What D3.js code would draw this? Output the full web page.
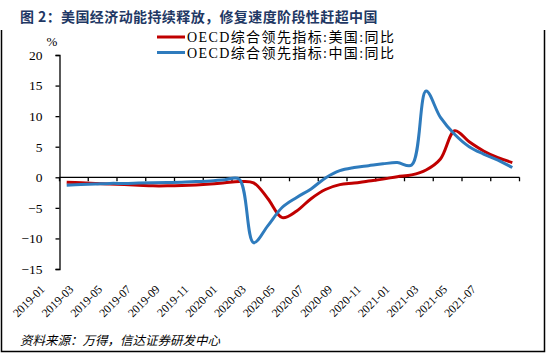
<!DOCTYPE html>
<html>
<head>
<meta charset="utf-8">
<title>图2</title>
<style>
  body { margin: 0; background: #fff; }
  svg { display: block; }
</style>
</head>
<body>
<svg width="546" height="353"></svg>
<script src="https://cdn.jsdelivr.net/npm/d3@7"></script>
<script>
// months 2019-01 .. 2021-08
const months = [];
for (let y = 2019; y <= 2021; y++) {
  for (let m = 1; m <= 12; m++) {
    if (y === 2021 && m > 8) break;
    months.push(y + "-" + String(m).padStart(2, "0"));
  }
}
const usValues = [-0.8, -0.9, -1.0, -1.1, -1.2, -1.3, -1.4, -1.4, -1.35, -1.25, -1.1, -0.9,
  -0.7, -0.9, -3.5, -6.6, -5.5, -3.5, -2.0, -1.2, -0.95, -0.6, -0.3, 0.1,
  0.4, 1.2, 3.0, 7.6, 5.8, 4.3, 3.2, 2.4];
const cnValues = [-1.3, -1.2, -1.1, -1.0, -1.0, -0.95, -0.9, -0.85, -0.8, -0.7, -0.6, -0.4,
  -0.3, -10.7, -7.9, -4.9, -3.3, -1.9, -0.1, 1.1, 1.6, 1.9, 2.2, 2.4,
  2.0, 14.1, 9.8, 7.0, 5.0, 3.8, 2.8, 1.6];
const seriesNames = ["OECD综合领先指标:美国:同比", "OECD综合领先指标:中国:同比"];
const seriesColors = ["#c00000", "#2e7bbd"];
const yTicks = [20, 15, 10, 5, 0, -5, -10, -15];

const svg = d3.select("svg");
const serif = "'Liberation Serif', 'Times New Roman', 'Noto Sans CJK SC', serif";

// frame
svg.append("path")
  .attr("d", "M1.5,30 V351.5 H544.5 V30")
  .attr("fill", "none")
  .attr("stroke", "#000")
  .attr("stroke-width", 1.5);

// title
svg.append("text")
  .attr("x", 20).attr("y", 22)
  .attr("font-family", "'Noto Sans CJK SC', sans-serif")
  .attr("font-weight", "bold")
  .attr("font-size", 14)
  .attr("letter-spacing", 0.4)
  .attr("fill", "#1f3864")
  .text("图 2：美国经济动能持续释放，修复速度阶段性赶超中国");

const x = d3.scaleBand().domain(months).range([59.5, 519.5]);
const y = d3.scaleLinear().domain([-15, 20]).range([269, 55]);

// y axis
const yAxis = svg.append("g")
  .attr("transform", "translate(59.5,0)")
  .call(d3.axisLeft(y).tickValues(yTicks).tickSize(4).tickPadding(13).tickFormat(d3.format("d")));
yAxis.select(".domain").attr("stroke", "#000").attr("stroke-width", 1.3);
yAxis.selectAll(".tick line").attr("stroke", "#000").attr("stroke-width", 1.3);
yAxis.selectAll("text").attr("font-family", serif).attr("font-size", 13.5).attr("fill", "#000");

svg.append("text")
  .attr("x", 52).attr("y", 46)
  .attr("text-anchor", "middle")
  .attr("font-family", serif).attr("font-size", 13)
  .text("%");

// x axis along zero
const labelMonths = months.filter((d, i) => i % 2 === 0);
const xAxis = svg.append("g")
  .attr("transform", `translate(0,${y(0)})`);
xAxis.append("line")
  .attr("x1", 59.5).attr("x2", 519.5)
  .attr("stroke", "#000").attr("stroke-width", 1.3);
xAxis.selectAll("line.tk")
  .data(labelMonths.concat(["end"]))
  .enter().append("line")
  .attr("class", "tk")
  .attr("x1", d => d === "end" ? 519.5 : x(d))
  .attr("x2", d => d === "end" ? 519.5 : x(d))
  .attr("y1", 0).attr("y2", 4)
  .attr("stroke", "#000").attr("stroke-width", 1.3);

// x labels at bottom
svg.append("g").selectAll("text")
  .data(labelMonths)
  .enter().append("text")
  .attr("transform", d => `translate(${x(d) - 14},290) rotate(-45)`)
  .attr("text-anchor", "end")
  .attr("font-family", serif)
  .attr("font-size", 11.8)
  .attr("fill", "#000")
  .text(d => d);

// lines
const line = d3.line()
  .x((d, i) => x(months[i]) + x.bandwidth() / 2)
  .y(d => y(d))
  .curve(d3.curveCatmullRom);

[usValues, cnValues].forEach((vals, k) => {
  svg.append("path")
    .datum(vals)
    .attr("fill", "none")
    .attr("stroke", seriesColors[k])
    .attr("stroke-width", 3)
    .attr("d", line);
});

// legend
const legend = svg.append("g");
seriesNames.forEach((name, k) => {
  const ly = 37 + k * 15.5;
  legend.append("line")
    .attr("x1", 157).attr("x2", 185)
    .attr("y1", ly).attr("y2", ly)
    .attr("stroke", seriesColors[k]).attr("stroke-width", 3);
  legend.append("text")
    .attr("x", 187).attr("y", ly + 5)
    .attr("font-family", serif)
    .attr("font-size", 14)
    .attr("letter-spacing", 1.4)
    .attr("fill", "#000")
    .text(name);
});

// source
svg.append("text")
  .attr("x", 20).attr("y", 345)
  .attr("font-family", "'Noto Sans CJK SC', sans-serif")
  .attr("font-style", "italic")
  .attr("font-size", 12.5)
  .attr("fill", "#000")
  .text("资料来源：万得，信达证券研发中心");
</script>
</body>
</html>
